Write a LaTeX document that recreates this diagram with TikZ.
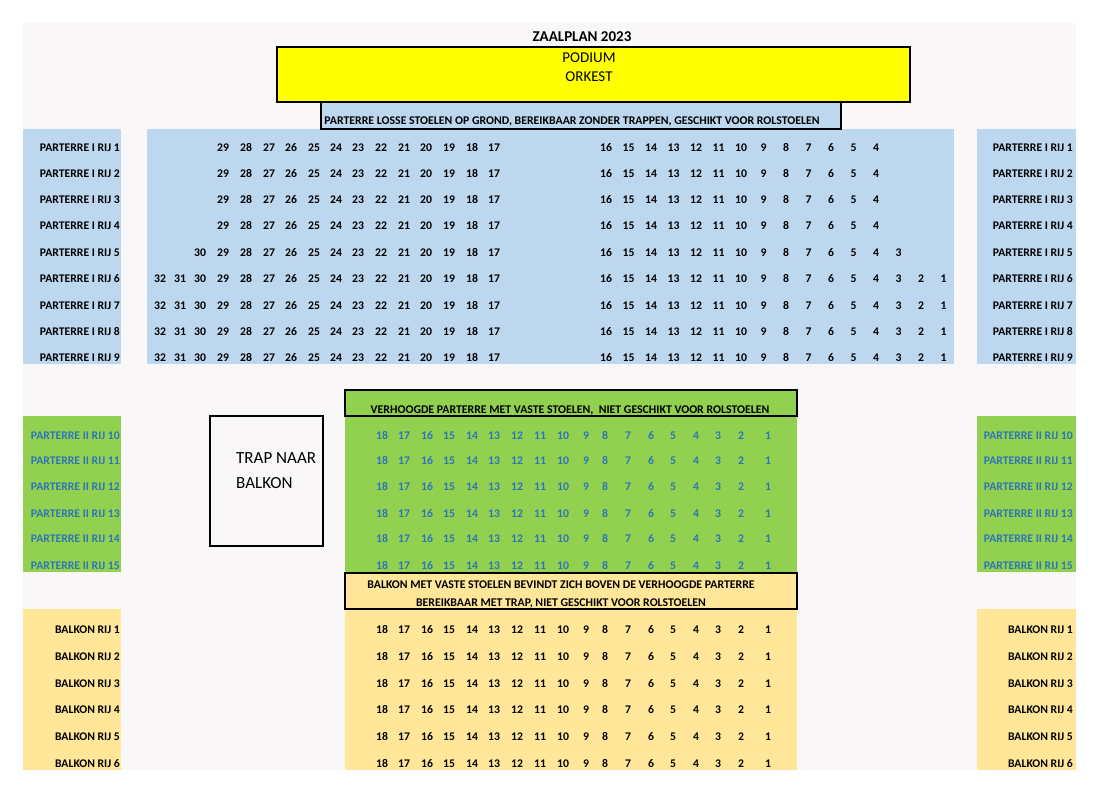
\documentclass[tikz,border=0pt]{standalone}
\usepackage{fontspec}
\setmainfont{Carlito}
\usepackage{tikz}
\usetikzlibrary{positioning}
\definecolor{paneel}{HTML}{F9F7F8}
\definecolor{blauw}{HTML}{BDD7EE}
\definecolor{groen}{HTML}{92D050}
\definecolor{oranje}{HTML}{FFE699}
\definecolor{geel}{HTML}{FFFF00}
\definecolor{rijblauw}{HTML}{2E75B6}

\begin{document}
\begin{tikzpicture}[x=1pt,y=-1pt,
    every node/.style={inner sep=0pt, text height=10pt, text depth=0pt,
      font=\bfseries\fontsize{11.7}{14}\selectfont},
    kader/.style={draw=black, line width=2pt},
    rij/.style={anchor=east},
    kop/.style={font=\bfseries\fontsize{11.8}{14}\selectfont},
    groot/.style={font=\fontsize{15}{18}\selectfont, text height=9.6pt}]
      \useasboundingbox (0,0) rectangle (1100,794);
      \fill[white] (0,0) rectangle (1100,794);
      \fill[paneel] (23,23) rectangle (1076,770);

      % Define areas
      \fill[blauw] (23,129) rectangle (121,364);
      \fill[blauw] (147,129) rectangle (954,364);
      \fill[blauw] (977,129) rectangle (1076,364);
      \fill[groen] (23,416) rectangle (121,572);
      \fill[groen] (345,390) rectangle (797,572);
      \fill[groen] (977,416) rectangle (1076,572);
      \fill[oranje] (23,609) rectangle (121,770);
      \fill[oranje] (345,573) rectangle (797,770);
      \fill[oranje] (977,609) rectangle (1076,770);
      \draw[kader, fill=geel] (277,47) rectangle (910,102);
      \draw[kader, fill=blauw] (321,102) rectangle (841,129);
      \draw[kader] (345,390) rectangle (797,416);
      \draw[kader] (345,573) rectangle (797,609);
      \draw[kader] (210,416) rectangle (323,546);

      % Define nodes
      \node[text height=9.6pt] (titel) at (582,37) {\fontsize{15}{18}\selectfont ZAALPLAN 2023};
      \node[groot] (podium) at (589,58) {PODIUM};
      \node[groot, below=9pt of podium] (orkest) {ORKEST};
      \node[kop] (kop1) at (572,120) {PARTERRE LOSSE STOELEN OP GROND, BEREIKBAAR ZONDER TRAPPEN, GESCHIKT VOOR ROLSTOELEN};
      \node[kop] (kop2) at (570,408) {VERHOOGDE PARTERRE MET VASTE STOELEN,\ \ NIET GESCHIKT VOOR ROLSTOELEN};
      \node[kop] (kop3) at (561,583) {BALKON MET VASTE STOELEN BEVINDT ZICH BOVEN DE VERHOOGDE PARTERRE};
      \node[kop] (kop4) at (561,601) {BEREIKBAAR MET TRAP, NIET GESCHIKT VOOR ROLSTOELEN};
      \node[font=\fontsize{17}{20}\selectfont, text height=11pt, anchor=west] (trap) at (236,458) {TRAP NAAR};
      \node[font=\fontsize{17}{20}\selectfont, text height=11pt, anchor=west] (balkon) at (236,483) {BALKON};

      % parterre I
      \def\linksx{32/160,31/180,30/200,29/223,28/246,27/269,26/291,25/314,24/336,23/358,22/381,21/404,20/426,19/449,18/472,17/494}
      \foreach \r/\y/\hoog/\laag in {1/147/29/4,2/173/29/4,3/199/29/4,4/225/29/4,5/252/30/3,6/278/32/1,7/304/32/1,8/330/32/1,9/356/32/1} {
        \node[rij] (pl\r) at (120,\y) {PARTERRE I RIJ \r};
        \node[rij] (pr\r) at (1073,\y) {PARTERRE I RIJ \r};
        \foreach \n/\x in \linksx
          {\ifnum\n>\hoog\else\node (p\r-\n) at (\x,\y) {\n};\fi}
        \foreach \n in {16,...,1}
          {\ifnum\n<\laag\else\node (p\r-\n) at ({606+(16-\n)*22.5},\y) {\n};\fi}
      }

      % parterre II en balkon
      \def\middenx{18/382,17/404,16/427,15/449,14/472,13/494,12/517,11/540,10/563,9/586,8/605,7/628,6/651,5/673,4/696,3/718,2/741,1/768}
      \foreach \r/\y in {10/434,11/459,12/485,13/512,14/537,15/564} {
        \node[rij, text=rijblauw] (vl\r) at (120,\y) {PARTERRE II RIJ \r};
        \node[rij, text=rijblauw] (vr\r) at (1073,\y) {PARTERRE II RIJ \r};
        \foreach \n/\x in \middenx
          \node[text=rijblauw] (v\r-\n) at (\x,\y) {\n};
      }
      \foreach \r/\y in {1/628,2/655,3/682,4/708,5/735,6/762} {
        \node[rij] (bl\r) at (120,\y) {BALKON RIJ \r};
        \node[rij] (br\r) at (1073,\y) {BALKON RIJ \r};
        \foreach \n/\x in \middenx
          \node (b\r-\n) at (\x,\y) {\n};
      }
\end{tikzpicture}
\end{document}
